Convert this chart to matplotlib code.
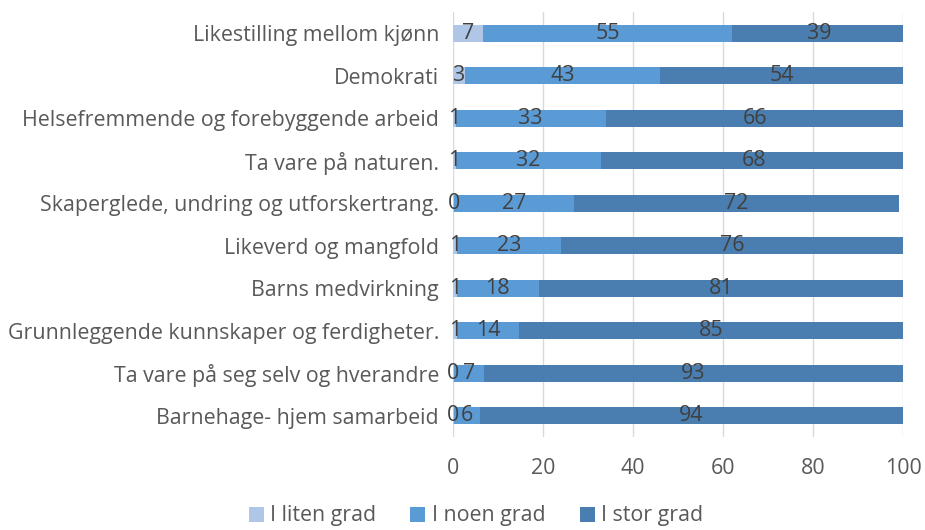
import numpy as np
import matplotlib
matplotlib.use('Agg')
import matplotlib.pyplot as plt

plt.rcParams['font.family'] = ['Open Sans', 'DejaVu Sans']

# kategorier, nederst først
kategorier = [
    "Barnehage- hjem samarbeid",
    "Ta vare på seg selv og hverandre",
    "Grunnleggende kunnskaper og ferdigheter.",
    "Barns medvirkning",
    "Likeverd og mangfold",
    "Skaperglede, undring og utforskertrang.",
    "Ta vare på naturen.",
    "Helsefremmende og forebyggende arbeid",
    "Demokrati",
    "Likestilling mellom kjønn",
]
liten_grad = [0.2, 0.2, 0.8, 0.8, 0.8, 0.3, 0.7, 0.6, 2.7, 6.7]
noen_grad = [5.8, 6.6, 13.9, 18.3, 23.2, 26.6, 32.2, 33.3, 43.3, 55.3]
stor_grad = [94.0, 93.3, 85.3, 80.9, 76.1, 72.2, 67.8, 66.2, 54.2, 38.7]
serienavn = ["I liten grad", "I noen grad", "I stor grad"]
farger = ["#AFC6E7", "#5B9BD5", "#4A7EB0"]

fs = 15.4

fig = plt.figure(figsize=(9.25, 5.3), dpi=100)
ax = fig.add_axes([453 / 925, 1 - 437 / 530, 450 / 925, 425 / 530])

y = np.arange(len(kategorier))
venstre = np.zeros(len(kategorier))
for verdier, navn, farge in zip([liten_grad, noen_grad, stor_grad], serienavn, farger):
    verdier = np.array(verdier)
    ax.barh(y, verdier, left=venstre, height=0.4, color=farge, label=navn, zorder=2)
    for yi, v, l in zip(y, verdier, venstre):
        ax.text(l + v / 2, yi, f"{round(v):.0f}", ha='center', va='center',
                fontsize=fs, color='#404040', zorder=3)
    venstre = venstre + verdier

ax.set_xlim(0, 100)
ax.set_ylim(-0.5, 9.5)
ax.set_xticks(range(0, 101, 20))
ax.set_yticks(y)
ax.set_yticklabels(kategorier)
ax.grid(axis='x', color='#D9D9D9', linewidth=1, zorder=0)
for s in ax.spines.values():
    s.set_visible(False)
ax.tick_params(axis='both', length=0, labelsize=fs, colors='#595959')
ax.tick_params(axis='y', pad=10)
ax.tick_params(axis='x', pad=15)

fig.legend(loc='center', bbox_to_anchor=(476 / 925, 1 - 516 / 530),
           ncol=3, frameon=False, fontsize=fs, handlelength=0.7, handleheight=0.7,
           columnspacing=1.6, handletextpad=0.3, labelcolor='#595959')

fig.savefig('out.png', dpi=100)
